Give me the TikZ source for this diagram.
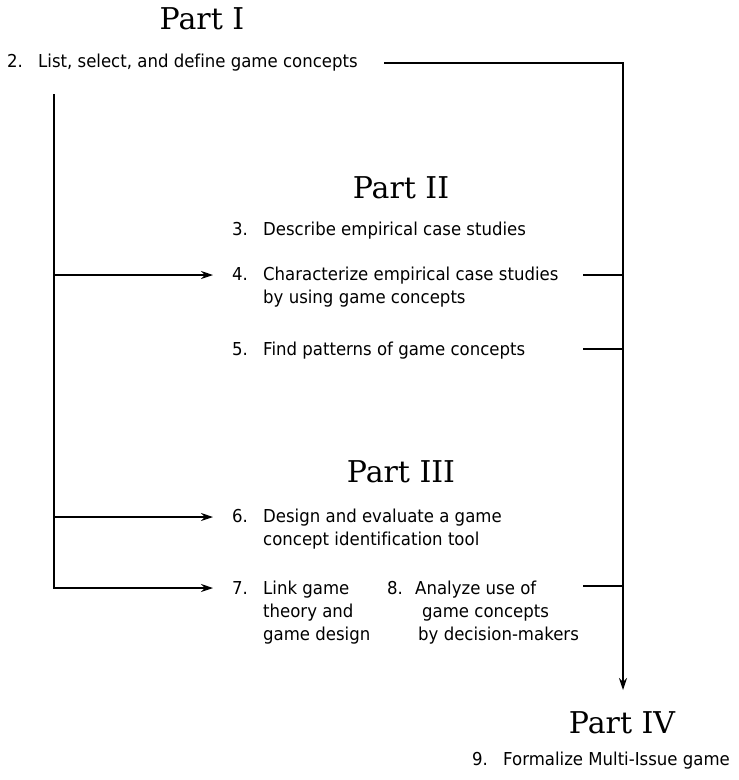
\documentclass[tikz,border=0pt]{standalone}
\usepackage{fontspec}
\setmainfont{DejaVu Sans}[Ligatures=NoCommon, FakeStretch=0.93]
\newfontfamily\partfont{DejaVu Serif}
\usetikzlibrary{arrows.meta}
% number box of a list entry, so that wrapped lines hang under the text
\newcommand\numbox[2][31pt]{\makebox[#1][l]{#2}}
\newcommand\hangbox[1][31pt]{\hspace*{#1}}
% stacked lines whose baseline is the first line's
\newcommand\rows[1]{\begin{tabular}[t]{@{}l@{}}#1\end{tabular}}
\begin{document}
\begin{tikzpicture}[x=1pt,y=-1pt,
  part/.style={inner sep=0pt, anchor=base, font=\partfont\fontsize{30}{36}\selectfont},
  entry/.style={inner sep=0pt, anchor=base west, font=\fontsize{17.8}{23}\selectfont},
  link/.style={line width=1.1pt, draw=black},
  arr/.style={link, -{Stealth[length=12pt,width=8pt,inset=4pt]}}
]
\useasboundingbox (0,0) rectangle (739,780);

% part headings
\node[part] (p1) at (202,29) {Part I};
\node[part] (p2) at (401,198) {Part II};
\node[part] (p3) at (401,482) {Part III};
\node[part] (p4) at (622,733) {Part IV};

% list entries
\node[entry] (i2) at (7,67) {\numbox{2.}List, select, and define game concepts};
\node[entry] (i3) at (232,235) {\numbox{3.}Describe empirical case studies};
\node[entry] (i4) at (232,280) {\rows{\numbox{4.}Characterize empirical case studies\\
  \hangbox by using game concepts}};
\node[entry] (i5) at (232,355) {\numbox{5.}Find patterns of game concepts};
\node[entry] (i6) at (232,522) {\rows{\numbox{6.}Design and evaluate a game\\
  \hangbox concept identification tool}};
\node[entry] (i7) at (232,594) {\rows{\numbox{7.}Link game\\
  \hangbox theory and\\
  \hangbox game design}};
\node[entry] (i8) at (387,594) {\rows{\numbox[28pt]{8.}Analyze use of\\
  \hangbox[35pt]game concepts\\
  \hangbox[31pt]by decision-makers}};
\node[entry] (i9) at (472,765) {\numbox{9.}Formalize Multi-Issue game};

% junction points of the connectors
\coordinate (o2) at (384,63);
\coordinate (down) at (623,690);
\coordinate (lt) at (54,94);
\coordinate (b4) at (54,275);
\coordinate (b6) at (54,517);
\coordinate (t4) at (213,275);
\coordinate (t6) at (213,517);
\coordinate (t7) at (213,588);
\coordinate (r4) at (583,275);
\coordinate (r5) at (583,349);
\coordinate (r8) at (583,586);

% connectors
\draw[arr] (o2) -| (down);
\draw[arr] (lt) |- (t7);
\draw[arr] (b4) -- (t4);
\draw[arr] (b6) -- (t6);
\draw[link] (r4) -- (r4 -| down);
\draw[link] (r5) -- (r5 -| down);
\draw[link] (r8) -- (r8 -| down);
\end{tikzpicture}
\end{document}
